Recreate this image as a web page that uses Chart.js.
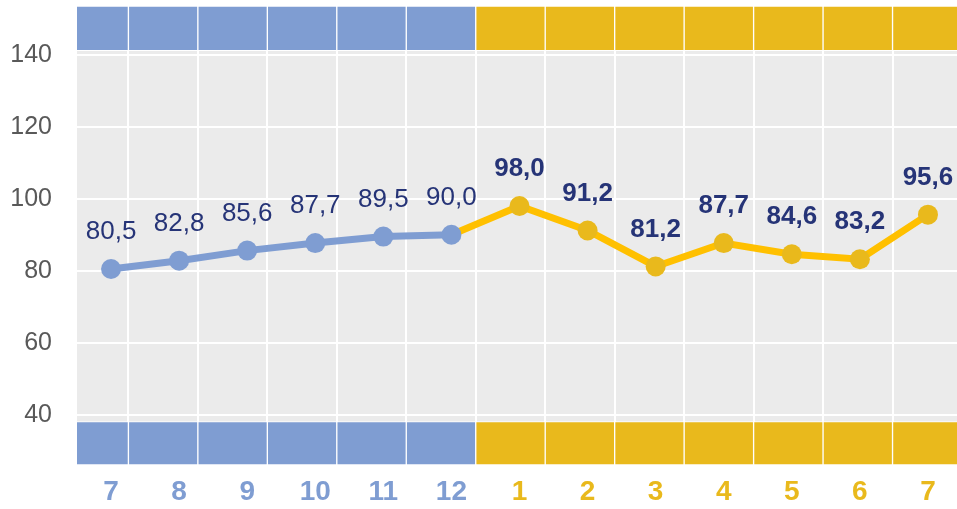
<!DOCTYPE html>
<html>
<head>
<meta charset="utf-8">
<script src="https://cdn.jsdelivr.net/npm/chart.js@4/dist/chart.umd.min.js"></script>
<style>
  body { margin: 0; overflow: hidden; background: #fff; }
  #wrap { width: 975px; height: 509px; }
</style>
</head>
<body>
<div id="wrap"><canvas id="chart"></canvas></div>
<script>
// ---- data ----
const months = ['7', '8', '9', '10', '11', '12', '1', '2', '3', '4', '5', '6', '7'];
const values = [80.5, 82.8, 85.6, 87.7, 89.5, 90.0, 98.0, 91.2, 81.2, 87.7, 84.6, 83.2, 95.6];
const firstYearCount = 6;          // months 7..12 belong to the first period
const topBand = [141.2, 153.6];
const bottomBand = [26, 38.1];
const yTicks = [40, 60, 80, 100, 120, 140];

// ---- colours ----
const BLUE = '#7F9DD2';
const GOLD = '#E9B91C';
const GOLD_LINE = '#FFC000';
const NAVY = '#263477';

const bandColors = months.map((m, i) => i < firstYearCount ? BLUE : GOLD);
const bandData = band => months.map((m, i) => ({ x: i + 0.5, y: band.slice() }));

// gray plot background
const plotBg = {
    id: 'plotBg',
    beforeDraw(chart) {
        const a = chart.chartArea;
        const ctx = chart.ctx;
        ctx.save();
        ctx.fillStyle = '#EBEBEB';
        ctx.fillRect(a.left, a.top, a.right - a.left, a.bottom - a.top);
        ctx.restore();
    }
};

// value labels above points
const valueLabels = {
    id: 'valueLabels',
    afterDatasetsDraw(chart) {
        const meta = chart.getDatasetMeta(0);
        const ctx = chart.ctx;
        ctx.save();
        ctx.fillStyle = NAVY;
        ctx.textAlign = 'center';
        ctx.textBaseline = 'middle';
        meta.data.forEach((pt, i) => {
            const bold = i >= firstYearCount ? 'bold ' : '';
            ctx.font = bold + '26px Arial, "Liberation Sans", sans-serif';
            ctx.fillText(values[i].toFixed(1).replace('.', ','), pt.x, pt.y - 37);
        });
        ctx.restore();
    }
};

const bandStyle = {
    xAxisID: 'x2',
    yAxisID: 'y',
    order: 1,
    grouped: false,
    backgroundColor: bandColors,
    borderColor: '#fff',
    borderWidth: 1,
    borderSkipped: false,
    barPercentage: 1,
    categoryPercentage: 1
};

new Chart(document.getElementById('chart'), {
    type: 'bar',
    data: {
        labels: months,
        datasets: [
            {
                type: 'line',
                data: values,
                xAxisID: 'x',
                yAxisID: 'y',
                order: 0,
                borderWidth: 7,
                borderColor: BLUE,
                segment: {
                    borderColor: c => c.p0DataIndex >= firstYearCount - 1 ? GOLD_LINE : BLUE
                },
                pointRadius: 10,
                pointHoverRadius: 10,
                pointBorderWidth: 0,
                pointBackgroundColor: bandColors,
                tension: 0
            },
            Object.assign({ data: bandData(topBand) }, bandStyle),
            Object.assign({ data: bandData(bottomBand) }, bandStyle)
        ]
    },
    options: {
        responsive: true,
        maintainAspectRatio: false,
        animation: false,
        layout: { autoPadding: false, padding: { top: 6, right: 13, left: 0, bottom: 0 } },
        plugins: {
            legend: { display: false },
            tooltip: { enabled: false }
        },
        scales: {
            x: {
                type: 'category',
                offset: true,
                grid: { display: false, drawTicks: false },
                border: { display: false },
                ticks: {
                    padding: 10,
                    font: { family: 'Arial, "Liberation Sans", sans-serif', size: 28, weight: 'bold' },
                    color: c => c.index < firstYearCount ? BLUE : GOLD,
                    maxRotation: 0,
                    autoSkip: false
                },
                afterFit: s => { s.height = 44; }
            },
            x2: {
                type: 'linear',
                position: 'top',
                offset: false,
                min: 0.26,
                max: 13,
                grid: { color: '#fff', lineWidth: 2, drawTicks: false, offset: false },
                border: { display: false },
                ticks: { display: false, stepSize: 1 },
                afterBuildTicks: s => {
                    s.ticks = s.ticks.filter(t => Number.isInteger(t.value) && t.value > 0 && t.value < 13);
                },
                afterFit: s => { s.height = 0; }
            },
            y: {
                min: 26,
                max: 153.6,
                grid: { color: '#fff', lineWidth: 2, drawTicks: false },
                border: { display: false },
                ticks: {
                    padding: 25,
                    color: '#595959',
                    font: { family: 'Arial, "Liberation Sans", sans-serif', size: 25 }
                },
                afterBuildTicks: s => {
                    s.ticks = yTicks.map(v => ({ value: v }));
                },
                afterFit: s => {
                    s.width = 77;
                    s.paddingTop = 0;
                    s.paddingBottom = 0;
                }
            }
        }
    },
    plugins: [plotBg, valueLabels]
});
</script>
</body>
</html>
